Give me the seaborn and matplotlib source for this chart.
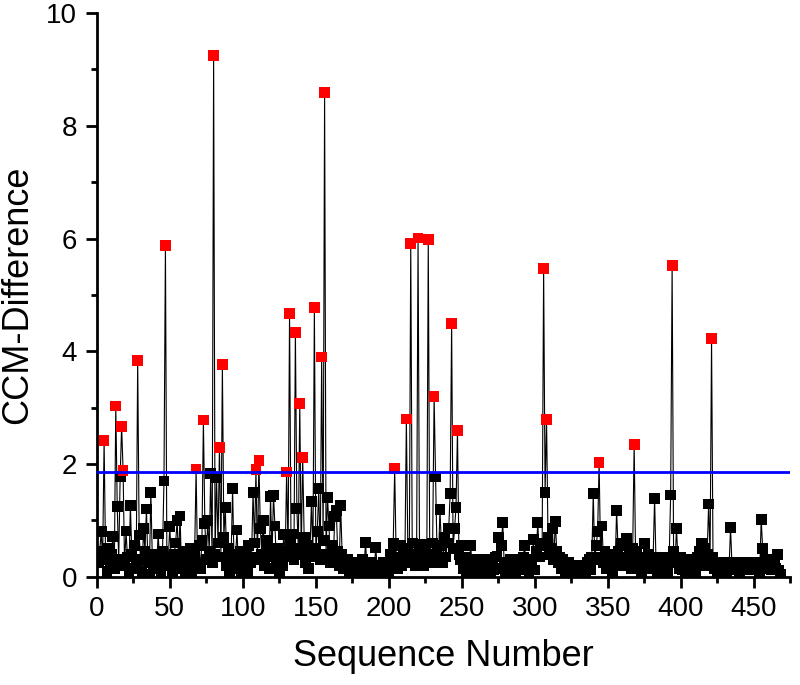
import numpy as np
import pandas as pd
import seaborn as sns
import matplotlib.pyplot as plt
from matplotlib.ticker import MultipleLocator

# CCM-Difference for each sequence number (blocks of 10)
ccm_diff = [
    0.25, 0.45, 0.80, 0.30, 2.42, 0.35, 0.10, 0.50, 0.20, 0.40,
    0.71, 0.15, 3.03, 1.24, 0.30, 1.78, 2.67, 1.89, 0.20, 0.81,
    0.35, 0.10, 1.26, 0.40, 0.15, 0.55, 0.25, 3.84, 0.74, 0.30,
    0.10, 0.85, 0.45, 1.20, 0.25, 0.05, 1.50, 0.35, 0.20, 0.40,
    0.15, 0.76, 0.30, 0.10, 0.45, 1.70, 5.87, 0.20, 0.35, 0.89,
    0.25, 0.10, 0.40, 0.60, 1.00, 0.30, 1.08, 0.15, 0.45, 0.20,
    0.05, 0.35, 0.25, 0.50, 0.10, 0.30, 0.40, 1.91, 0.20, 0.55,
    0.15, 0.65, 2.78, 0.95, 0.30, 1.00, 0.45, 1.83, 0.25, 9.25,
    0.40, 1.76, 0.60, 2.29, 0.35, 3.76, 0.70, 1.23, 0.20, 0.50,
    0.10, 0.40, 1.56, 0.25, 0.35, 0.83, 0.15, 0.45, 0.05, 0.30,
    0.20, 0.40, 0.10, 0.55, 0.25, 0.35, 1.50, 0.60, 1.90, 0.30,
    2.06, 0.85, 0.40, 1.00, 0.20, 0.65, 0.45, 0.15, 1.43, 0.35,
    1.45, 0.90, 0.25, 0.50, 0.10, 0.40, 0.20, 0.75, 0.35, 1.86,
    0.45, 4.67, 0.60, 0.76, 0.30, 4.33, 1.21, 0.50, 3.08, 0.40,
    2.12, 0.70, 0.25, 0.55, 0.15, 0.45, 1.33, 0.35, 4.77, 0.50,
    0.80, 1.56, 0.30, 3.90, 0.65, 8.59, 0.40, 1.41, 0.90, 0.25,
    0.55, 0.35, 1.07, 1.17, 0.45, 0.20, 1.27, 0.40, 0.15, 0.30,
    0.15, 0.30, 0.05, 0.25, 0.10, 0.02, 0.20, 0.08, 0.15, 0.25,
    0.05, 0.30, 0.12, 0.61, 0.20, 0.08, 0.15, 0.25, 0.05, 0.12,
    0.52, 0.20, 0.08, 0.15, 0.02, 0.25, 0.12, 0.05, 0.20, 0.10,
    0.40, 0.25, 0.59, 1.92, 0.35, 0.15, 0.30, 0.55, 0.20, 0.45,
    0.30, 2.80, 0.50, 0.25, 5.91, 0.60, 0.40, 0.20, 0.35, 6.01,
    0.45, 0.30, 0.58, 0.20, 0.50, 0.35, 5.98, 0.40, 0.25, 0.60,
    3.20, 1.77, 0.45, 0.30, 1.19, 0.55, 0.25, 0.70, 0.35, 0.60,
    0.85, 1.48, 4.49, 0.50, 0.85, 1.23, 2.60, 0.40, 0.30, 0.55,
    0.15, 0.35, 0.08, 0.25, 0.12, 0.56, 0.20, 0.05, 0.30, 0.15,
    0.08, 0.25, 0.02, 0.20, 0.12, 0.30, 0.05, 0.15, 0.25, 0.08,
    0.20, 0.12, 0.35, 0.37, 0.70, 0.15, 0.55, 0.96, 0.20, 0.08,
    0.25, 0.12, 0.30, 0.05, 0.15, 0.20, 0.08, 0.25, 0.30, 0.12,
    0.20, 0.35, 0.55, 0.15, 0.25, 0.08, 0.30, 0.20, 0.66, 0.12,
    0.45, 0.96, 0.35, 0.55, 0.60, 5.47, 1.49, 2.79, 0.70, 0.40,
    0.50, 0.86, 0.30, 0.98, 0.45, 0.25, 0.35, 0.15, 0.30, 0.20,
    0.05, 0.15, 0.25, 0.08, 0.02, 0.12, 0.20, 0.05, 0.15, 0.08,
    0.12, 0.05, 0.20, 0.15, 0.08, 0.25, 0.30, 0.12, 0.35, 1.48,
    0.30, 0.55, 0.80, 2.03, 0.35, 0.90, 0.25, 0.45, 0.15, 0.30,
    0.20, 0.40, 0.10, 0.35, 0.25, 1.18, 0.45, 0.30, 0.60, 0.20,
    0.35, 0.55, 0.68, 0.25, 0.40, 0.15, 0.50, 2.35, 0.30, 0.45,
    0.20, 0.35, 0.10, 0.25, 0.59, 0.30, 0.15, 0.40, 0.20, 0.25,
    0.35, 1.39, 0.20, 0.10, 0.30, 0.25, 0.15, 0.35, 0.20, 0.30,
    0.10, 0.35, 1.45, 5.52, 0.45, 0.25, 0.86, 0.30, 0.15, 0.35,
    0.12, 0.20, 0.08, 0.15, 0.25, 0.05, 0.30, 0.12, 0.20, 0.08,
    0.35, 0.25, 0.45, 0.59, 0.30, 0.50, 0.20, 0.40, 1.29, 0.35,
    4.22, 0.35, 0.15, 0.25, 0.08, 0.20, 0.12, 0.25, 0.15, 0.20,
    0.08, 0.25, 0.15, 0.87, 0.20, 0.12, 0.25, 0.15, 0.20, 0.08,
    0.25, 0.15, 0.20, 0.12, 0.25, 0.20, 0.15, 0.25, 0.12, 0.20,
    0.15, 0.25, 0.20, 0.08, 1.02, 0.50, 0.25, 0.30, 0.15, 0.20,
    0.25, 0.12, 0.20, 0.30, 0.15, 0.39, 0.12, 0.05,
]
threshold = 1.85

df = pd.DataFrame({"seq": np.arange(1, len(ccm_diff) + 1), "diff": ccm_diff})
df["above"] = np.where(df["diff"] > threshold, "above", "below")

sns.set_theme(style="ticks")
plt.rcParams["font.family"] = ["Liberation Sans", "DejaVu Sans"]

fig = plt.figure(figsize=(8, 6.85), dpi=100)
ax = fig.add_axes([0.121, 0.158, 0.867, 0.823])

# thin connecting line, then square markers coloured by threshold
sns.lineplot(data=df, x="seq", y="diff", color="black", linewidth=0.8,
             estimator=None, sort=False, ax=ax)
sns.scatterplot(data=df, x="seq", y="diff", hue="above",
                palette={"above": "#ff0000", "below": "black"},
                marker="s", s=60, linewidth=0, legend=False, ax=ax, zorder=3)
ax.axhline(threshold, color="#0000ff", linewidth=2, zorder=4)

ax.set_xlim(0, 475)
ax.set_ylim(0, 10)
ax.xaxis.set_major_locator(MultipleLocator(50))
ax.xaxis.set_minor_locator(MultipleLocator(25))
ax.yaxis.set_major_locator(MultipleLocator(2))
ax.yaxis.set_minor_locator(MultipleLocator(1))
ax.tick_params(which="major", direction="out", length=8, width=2, labelsize=20,
               colors="black", pad=6)
ax.tick_params(which="minor", direction="out", length=4, width=2, colors="black")

sns.despine(ax=ax)
for side in ["left", "bottom"]:
    ax.spines[side].set_linewidth(2)
    ax.spines[side].set_color("black")

ax.set_xlabel("Sequence Number", fontsize=26, color="black", labelpad=12)
ax.set_ylabel("CCM-Difference", fontsize=26, color="black", labelpad=8)

fig.savefig("out.png", dpi=100)
